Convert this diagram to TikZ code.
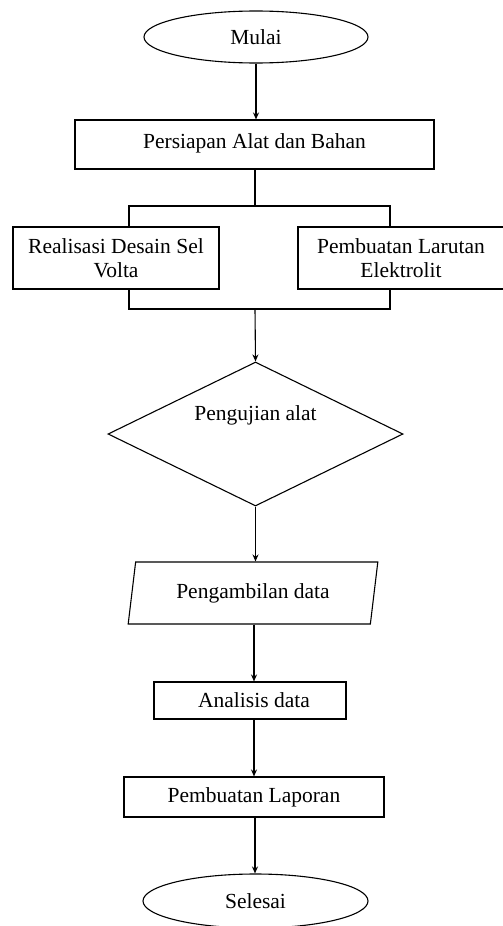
\documentclass[tikz,border=0pt]{standalone}
\usepackage{fontspec}
\setmainfont{Liberation Serif}
\usetikzlibrary{shapes.geometric,arrows.meta}
\begin{document}
\begin{tikzpicture}[x=1pt,y=-1pt,
  every node/.style={font=\fontsize{21.5}{23.5}\selectfont, inner sep=0pt, align=center},
  term/.style={ellipse, draw, line width=1.1pt, minimum width=224pt, minimum height=52pt},
  proc/.style={rectangle, draw, line width=1.1pt},
  dec/.style={diamond, draw, line width=1.1pt, minimum width=295pt, minimum height=144pt},
  io/.style={trapezium, draw, line width=1.1pt, trapezium left angle=76, trapezium right angle=104, trapezium stretches=true, minimum width=250pt, minimum height=62pt},
  conn/.style={line width=1.1pt},
  arr/.style={conn, -{Stealth[length=7pt,width=6pt]}}]
\useasboundingbox (0,0) rectangle (503,926);
\clip (0,0) rectangle (503,926);
\node[term] (mulai) at (256,37) {Mulai};
\node[proc, minimum width=359pt, minimum height=49pt] (siap) at (254.5,144.5) {\raisebox{6pt}{Persiapan Alat dan Bahan}};
\node[proc, minimum width=206pt, minimum height=62pt] (desain) at (116,258) {Realisasi Desain Sel\\Volta};
\node[proc, minimum width=206pt, minimum height=62pt] (larutan) at (401,258) {Pembuatan Larutan\\Elektrolit};
\node[dec] (uji) at (255.5,434) {};
\node (ujitext) at (255.5,415) {Pengujian alat};
\node[io] (ambil) at (253,593) {Pengambilan data};
\node[proc, minimum width=192pt, minimum height=37pt] (analisis) at (250,700.5) {\hspace{8pt}Analisis data};
\node[proc, minimum width=260pt, minimum height=40pt] (laporan) at (254,797) {\raisebox{3pt}{Pembuatan Laporan}};
\node[term, minimum width=225pt, minimum height=54pt] (selesai) at (255.5,901) {Selesai};
\coordinate (split) at (255,206);
\coordinate (sL) at (129,206);
\coordinate (sR) at (390,206);
\coordinate (join) at (255,309);
\coordinate (jL) at (129,309);
\coordinate (jR) at (390,309);
\draw[arr] (mulai.south) -- (mulai.south |- siap.north);
\draw[conn] (siap.south -| split) -- (split);
\draw[conn] (sL |- desain.north) -- (sL) -- (sR) -- (sR |- larutan.north);
\draw[conn] (jL |- desain.south) -- (jL) -- (jR) -- (jR |- larutan.south);
\draw[arr] (join) -- (uji.north);
\draw[arr] (uji.south) -- (uji.south |- ambil.north);
\draw[arr] (ambil.south -| 254,0) -- (254,0 |- analisis.north);
\draw[arr] (analisis.south -| 254,0) -- (254,0 |- laporan.north);
\draw[arr] (laporan.south -| 255,0) -- (255,0 |- selesai.north);
\end{tikzpicture}
\end{document}
